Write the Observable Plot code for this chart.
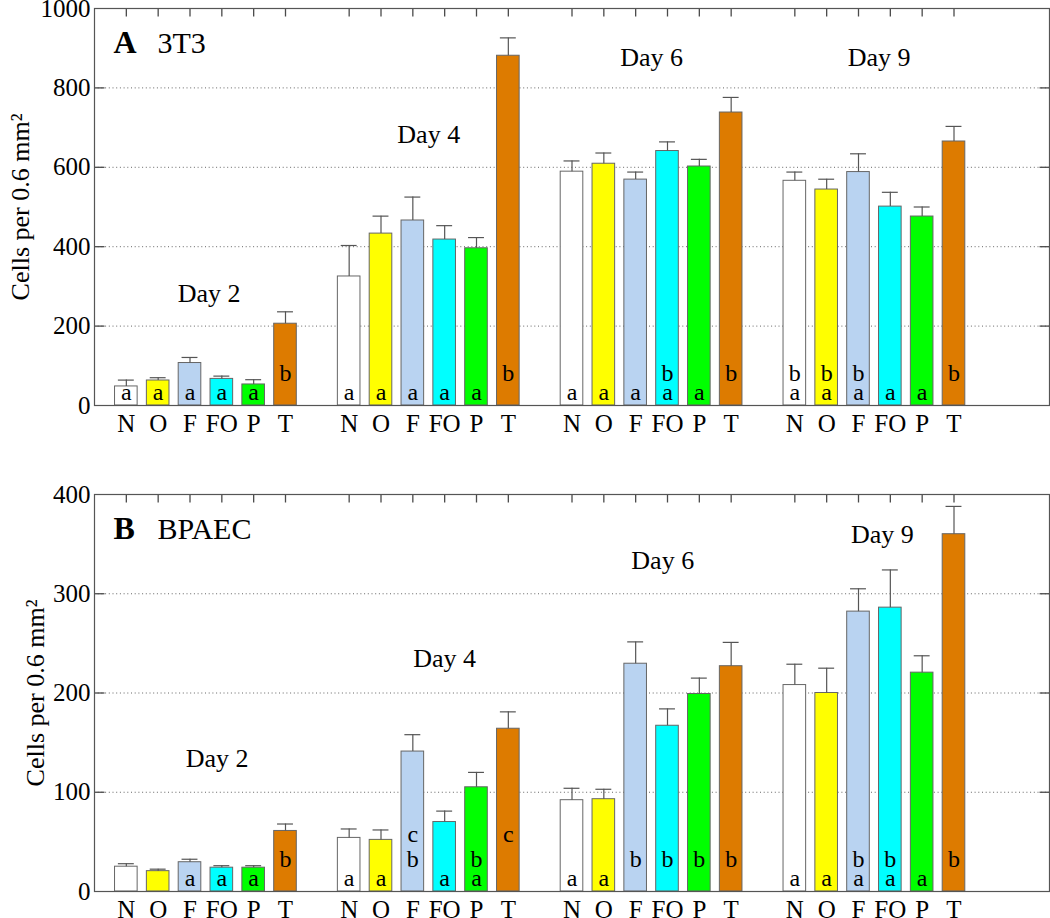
<!DOCTYPE html>
<html><head><meta charset="utf-8">
<script src="https://cdn.jsdelivr.net/npm/d3@7"></script>
<script src="https://cdn.jsdelivr.net/npm/@observablehq/plot@0.6"></script>
<style>
html,body{margin:0;padding:0;background:#fff;}
#chart{width:1050px;height:918px;overflow:hidden;}
#chart svg{display:block;}
</style></head><body><div id="chart"></div>
<script>
// ---------- data ----------
const days = ["Day 2", "Day 4", "Day 6", "Day 9"];
const treatments = ["N", "O", "F", "FO", "P", "T"];
const treatmentColors = ["#ffffff", "#ffff00", "#b9d3f1", "#00ffff", "#00ff00", "#dd7b00"];

// Panel A: 3T3 (mean cells per 0.6 mm^2), one array per day, order N O F FO P T
const t3_day2 = [48, 63, 107, 67, 53, 206];
const t3_day4 = [325, 433, 466, 418, 396, 881];
const t3_day6 = [589, 609, 569, 641, 602, 738];
const t3_day9 = [566, 544, 588, 501, 476, 665];
const t3_err2 = [16, 7, 14, 7, 12, 30];
const t3_err4 = [78, 44, 59, 35, 27, 45];
const t3_err6 = [27, 27, 19, 23, 18, 38];
const t3_err9 = [22, 26, 46, 36, 24, 38];
const t3_let2 = ["a", "a", "a", "a", "a", "b"];
const t3_let4 = ["a", "a", "a", "a", "a", "b"];
const t3_let6 = ["a", "a", "a", "ab", "a", "b"];
const t3_let9 = ["ab", "ab", "ab", "a", "a", "b"];
const t3_ticks = [0, 200, 400, 600, 800, 1000];

// Panel B: BPAEC
const bp_day2 = [25, 20.5, 29.5, 24, 24, 61];
const bp_day4 = [54, 52, 141, 70, 105, 164];
const bp_day6 = [92, 93, 229.5, 167, 199, 227];
const bp_day9 = [208, 200, 282, 286, 220.5, 360];
const bp_err2 = [3, 2, 3, 2, 2, 7];
const bp_err4 = [9, 10, 17, 11, 15, 17];
const bp_err6 = [12, 10, 22, 17, 16, 24];
const bp_err9 = [21, 25, 23, 38, 17, 28];
const bp_let2 = ["", "", "a", "a", "a", "b"];
const bp_let4 = ["a", "a", "bc", "a", "ab", "c"];
const bp_let6 = ["a", "a", "b", "b", "b", "b"];
const bp_let9 = ["a", "a", "ab", "ab", "a", "b"];
const bp_ticks = [0, 100, 200, 300, 400];

// annotation anchors (x in slot units, y in data units)
const t3_dayLabelX = [3.6, 10.5, 17.5, 24.65];
const t3_dayLabelY = [260, 660, 855, 855];
const bp_dayLabelX = [3.85, 11.0, 17.85, 24.75];
const bp_dayLabelY = [125, 226, 325, 351];

// ---------- build ----------
const serif = '"Liberation Serif", "Times New Roman", "DejaVu Serif", serif';
const letterOffset = {a: 6, b: 25, c: 50};
const slotsPerDay = treatments.length + 1;
const xDomain = [0, 30];
const halfBar = 0.355, halfCap = 0.25;
const W = 1050, ML = 94, MR = 1;

function buildRows(values, errs, lets) {
  const rows = [];
  values.forEach((vals, d) => vals.forEach((v, t) => rows.push({
    pos: d * slotsPerDay + t + 1, day: days[d], trt: treatments[t],
    value: v, err: errs[d][t], letters: lets[d][t], color: treatmentColors[t]
  })));
  return rows;
}

function panel({rows, ticks, tag, name, labelX, labelY, height, marginTop, marginBottom, ylabelDx}) {
  const positions = rows.map(r => r.pos);
  const inner = ticks.slice(1, -1);
  const yMin = ticks[0], yMax = ticks[ticks.length - 1];
  const letterRows = rows.flatMap(r => [...r.letters].map(ch => ({pos: r.pos, ch})));
  const grey = "#555";
  // inward tick lengths, converted from pixels to data units
  const plotH = height - marginTop - marginBottom, plotW = W - ML - MR;
  const xTickLen = 8 * (yMax - yMin) / plotH;
  const yTickLen = 10 * (xDomain[1] - xDomain[0]) / plotW;
  const tickRowsTop = positions.map(p => ({p, y1: yMax - xTickLen, y2: yMax}));
  const tickRowsLeft = inner.map(v => ({v, x1: xDomain[0], x2: xDomain[0] + yTickLen}));
  const tickRowsRight = inner.map(v => ({v, x1: xDomain[1] - yTickLen, x2: xDomain[1]}));
  const tickStyle = {stroke: "#4a4a4a", strokeWidth: 1.3};
  return Plot.plot({
    width: W, height, marginLeft: ML, marginRight: MR, marginTop, marginBottom,
    style: {fontFamily: serif, fontSize: "25px", color: "#000", background: "#fff", overflow: "visible"},
    x: {domain: xDomain, axis: null, label: null},
    y: {domain: [yMin, yMax], axis: null, label: null},
    color: {type: "identity"},
    marks: [
      Plot.gridY(inner, {stroke: "#555", strokeOpacity: 0.9, strokeDasharray: "1,2.7"}),
      Plot.rect(rows, {x1: r => r.pos - halfBar, x2: r => r.pos + halfBar, y1: r => 0, y2: "value",
        fill: "color", stroke: "#666", strokeWidth: 1}),
      Plot.ruleX(rows, {x: "pos", y1: "value", y2: r => r.value + r.err, stroke: grey, strokeWidth: 1.2}),
      Plot.ruleY(rows, {y: r => r.value + r.err, x1: r => r.pos - halfCap, x2: r => r.pos + halfCap, stroke: grey, strokeWidth: 1.2}),
      ...["a", "b", "c"].map(ch => Plot.text(letterRows.filter(l => l.ch === ch), {
        x: "pos", frameAnchor: "bottom", dy: -letterOffset[ch], lineAnchor: "bottom",
        text: "ch", fontSize: 24, fill: "#000"})),
      Plot.text(days, {x: (d, i) => labelX[i], y: (d, i) => labelY[i], text: d => d,
        lineAnchor: "bottom", textAnchor: "middle", fontSize: 26, fill: "#000"}),
      Plot.text([tag], {frameAnchor: "top-left", dx: 19, dy: 44, lineAnchor: "bottom", textAnchor: "start",
        text: d => d, fontWeight: "bold", fontSize: 32, fill: "#000"}),
      Plot.text([name], {frameAnchor: "top-left", dx: 63, dy: 44, lineAnchor: "bottom", textAnchor: "start",
        text: d => d, fontSize: 30, fill: "#000"}),
      Plot.text(["Cells per 0.6 mm²"], {frameAnchor: "left", rotate: -90, dx: ylabelDx, lineAnchor: "bottom",
        textAnchor: "middle", text: d => d, fontSize: 26, fill: "#000"}),
      Plot.axisY(ticks, {anchor: "left", tickSize: 0, tickPadding: 4, tickFormat: d => String(d), fontSize: 25, label: null}),
      // inward tick marks (left, right, top)
      Plot.link(tickRowsLeft, {x1: "x1", x2: "x2", y1: "v", y2: "v", ...tickStyle}),
      Plot.link(tickRowsRight, {x1: "x1", x2: "x2", y1: "v", y2: "v", ...tickStyle}),
      Plot.link(tickRowsTop, {x1: "p", x2: "p", y1: "y1", y2: "y2", ...tickStyle}),
      Plot.axisX(positions, {anchor: "bottom", tickSize: 0, tickPadding: 9, fontSize: 25, label: null,
        tickFormat: p => treatments[(p - 1) % slotsPerDay]}),
      Plot.frame({stroke: "#555", strokeWidth: 1.2})
    ]
  });
}

const rowsA = buildRows([t3_day2, t3_day4, t3_day6, t3_day9], [t3_err2, t3_err4, t3_err6, t3_err9], [t3_let2, t3_let4, t3_let6, t3_let9]);
const rowsB = buildRows([bp_day2, bp_day4, bp_day6, bp_day9], [bp_err2, bp_err4, bp_err6, bp_err9], [bp_let2, bp_let4, bp_let6, bp_let9]);

const chart = document.getElementById("chart");
chart.append(panel({rows: rowsA, ticks: t3_ticks, tag: "A", name: "3T3", labelX: t3_dayLabelX, labelY: t3_dayLabelY,
  height: 460, marginTop: 8, marginBottom: 55, ylabelDx: -65.5}));
chart.append(panel({rows: rowsB, ticks: bp_ticks, tag: "B", name: "BPAEC", labelX: bp_dayLabelX, labelY: bp_dayLabelY,
  height: 458, marginTop: 34, marginBottom: 27, ylabelDx: -50.7}));
</script></body></html>
